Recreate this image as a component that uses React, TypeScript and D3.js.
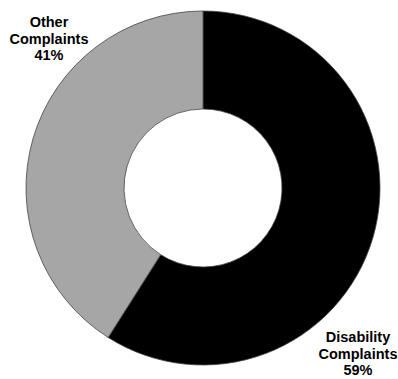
import React from "react";
import * as d3 from "d3";

const categories = ["Disability Complaints", "Other Complaints"];
const values = [59, 41];
const colors = ["#000000", "#a6a6a6"];
const labelLines = [["Disability", "Complaints", "59%"], ["Other", "Complaints", "41%"]];

export default function App() {
  const width = 398, height = 379;
  const cx = 203, cy = 188, outerR = 177, innerR = 79;
  const pie = d3.pie<number>().sort(null).value(d => d);
  const arcs = pie(values);
  const arc = d3.arc<d3.PieArcDatum<number>>().innerRadius(innerR).outerRadius(outerR);
  const labelPos = [
    { x: 358, y: 342 },
    { x: 49, y: 27 },
  ];
  return (
    <svg width={width} height={height} style={{ position: "absolute", left: 0, top: 0 }}>
      <g transform={`translate(${cx},${cy})`}>
        {arcs.map((a, i) => (
          <path key={categories[i]} d={arc(a) || ""} fill={colors[i]} stroke="#444" strokeWidth={0.8} />
        ))}
      </g>
      {labelLines.map((lines, i) => (
        <text key={i} textAnchor="middle" fontFamily="Liberation Sans, Arial, sans-serif" fontWeight="bold" fontSize={14.5} fill="#000">
          {lines.map((l, j) => (
            <tspan key={j} x={labelPos[i].x} y={labelPos[i].y + j * 16.5}>{l}</tspan>
          ))}
        </text>
      ))}
    </svg>
  );
}
